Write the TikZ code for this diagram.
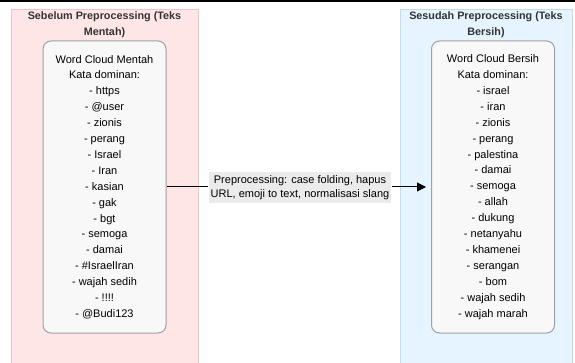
\documentclass[tikz,border=0pt]{standalone}
\usepackage{fontspec}
\setmainfont{Liberation Sans}
\usetikzlibrary{arrows.meta,positioning}
\definecolor{panepink}{HTML}{FFE6E6}
\definecolor{pinkline}{HTML}{EEC6C6}
\definecolor{paneblue}{HTML}{E5F4FF}
\definecolor{blueline}{HTML}{BFDCEE}
\definecolor{cloudfill}{HTML}{F8F8F8}
\definecolor{cloudline}{HTML}{A0A0A0}
\definecolor{lblfill}{HTML}{EBEBEB}

\begin{document}
\begin{tikzpicture}[x=1pt, y=-1pt, line width=1pt,
  every node/.style={font=\fontsize{11}{14}\selectfont, inner sep=0pt},
  pane/.style={draw, anchor=north west, minimum width=187pt, minimum height=354pt},
  panetitle/.style={font=\bfseries\fontsize{10.8}{16}\selectfont, align=center, text=black!80},
  cloud/.style={draw=cloudline, fill=cloudfill, rounded corners=8pt, align=center,
    minimum width=123pt, minimum height=292pt, font=\fontsize{11}{15.9}\selectfont},
  steplbl/.style={fill=lblfill, align=center, inner xsep=2pt, minimum height=31pt}]
\useasboundingbox (0,0) rectangle (575,363);
\fill[black] (0,0) rectangle (575,2.5);
% the two panes
\node[pane, fill=panepink, draw=pinkline] (before) at (11,9) {};
\node[pane, fill=paneblue, draw=blueline, minimum width=172pt] (after) at (400,9) {};
\node[panetitle] (beforetitle) at (104.5,25) {Sebelum Preprocessing (Teks\\Mentah)};
\node[panetitle] (aftertitle) at (486,25) {Sesudah Preprocessing (Teks\\Bersih)};
% word clouds
\node[cloud] (rawcloud) at (104.5,187) {Word Cloud Mentah\\Kata dominan:\\- https\\- @user\\- zionis\\- perang\\- Israel\\- Iran\\- kasian\\- gak\\- bgt\\- semoga\\- damai\\- \#IsraelIran\\- wajah sedih\\- !!!!\\- @Budi123};
\node[cloud] (cleancloud) at (493,187) {Word Cloud Bersih\\Kata dominan:\\- israel\\- iran\\- zionis\\- perang\\- palestina\\- damai\\- semoga\\- allah\\- dukung\\- netanyahu\\- khamenei\\- serangan\\- bom\\- wajah sedih\\- wajah marah};
% preprocessing step
\node[steplbl] (step) at (300,187.5) {Preprocessing: case folding, hapus\\URL, emoji to text, normalisasi slang};
\draw (rawcloud.east) -- (rawcloud.east -| step.west);
\draw[-{Triangle[length=9pt,width=9pt]}, shorten >=5pt] (cleancloud.west -| step.east) -- (cleancloud.west);
\end{tikzpicture}
\end{document}
